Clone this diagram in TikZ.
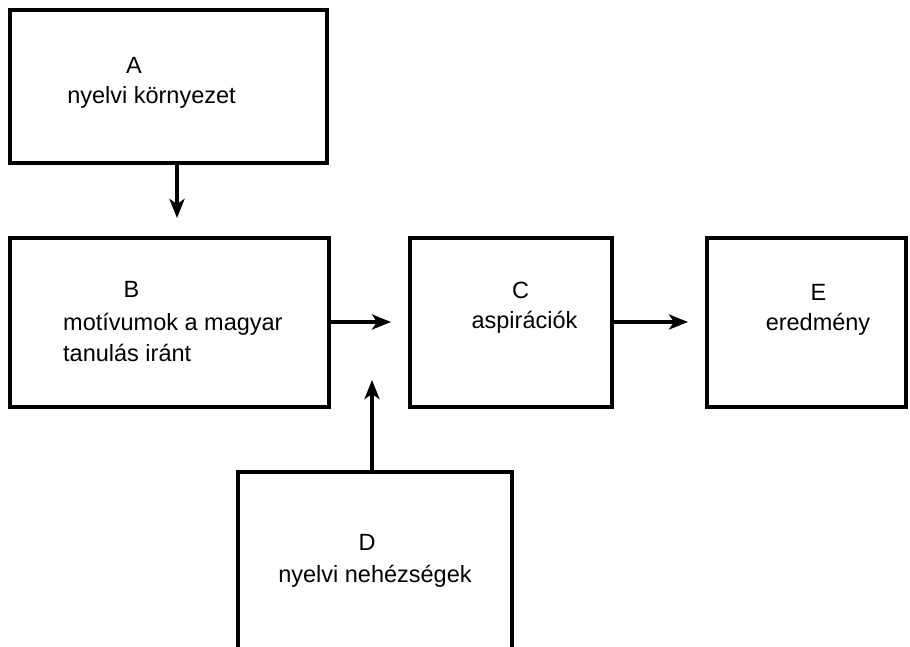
\documentclass[tikz,border=0pt]{standalone}
\usepackage{fontspec}
\setmainfont{Liberation Sans}
\usetikzlibrary{arrows.meta}
\begin{document}
\begin{tikzpicture}[x=1pt,y=-1pt,>={Stealth[length=19pt,width=15pt,inset=5pt]},
        box/.style={draw,line width=4pt,inner sep=0pt},
        lbl/.style={anchor=base,inner sep=0pt,font=\fontsize{23.5}{28}\selectfont},
        con/.style={->,line width=3.5pt}]
        \useasboundingbox (0,0) rectangle (910,646);
        \clip (0,0) rectangle (910,646);
        % boxes
        \node[box,minimum width=317pt,minimum height=153pt] (A) at (168.5,86.5) {};
        \node[box,minimum width=319pt,minimum height=169pt] (B) at (169.5,322) {};
        \node[box,minimum width=202pt,minimum height=169pt] (C) at (511,322) {};
        \node[box,minimum width=199pt,minimum height=169pt] (E) at (806.5,322) {};
        \node[box,minimum width=274pt,minimum height=200pt] (D) at (375,572) {};
        % texts
        \node[lbl] (lA) at (134,73) {A};
        \node[lbl] (tA) at (151.5,103) {nyelvi környezet};
        \node[lbl] (lB) at (131.5,297) {B};
        \node[lbl,anchor=base west] (tB1) at (63,330) {motívumok a magyar};
        \node[lbl,anchor=base west] (tB2) at (63,361) {tanulás iránt};
        \node[lbl] (lC) at (520.5,298) {C};
        \node[lbl] (tC) at (524.5,328) {aspirációk};
        \node[lbl] (lE) at (818.5,300) {E};
        \node[lbl] (tE) at (818,330) {eredmény};
        \node[lbl] (lD) at (367,550) {D};
        \node[lbl] (tD) at (375,582) {nyelvi nehézségek};
        % arrows
        \coordinate (ab) at (177,218);
        \coordinate (dtip) at (372,380);
        \draw[con] (A.south -| ab) -- (ab);
        \draw[con,shorten >=17pt] (B.east) -- (C.west);
        \draw[con,shorten >=17pt] (C.east) -- (E.west);
        \draw[con] (D.north -| dtip) -- (dtip);
\end{tikzpicture}
\end{document}
